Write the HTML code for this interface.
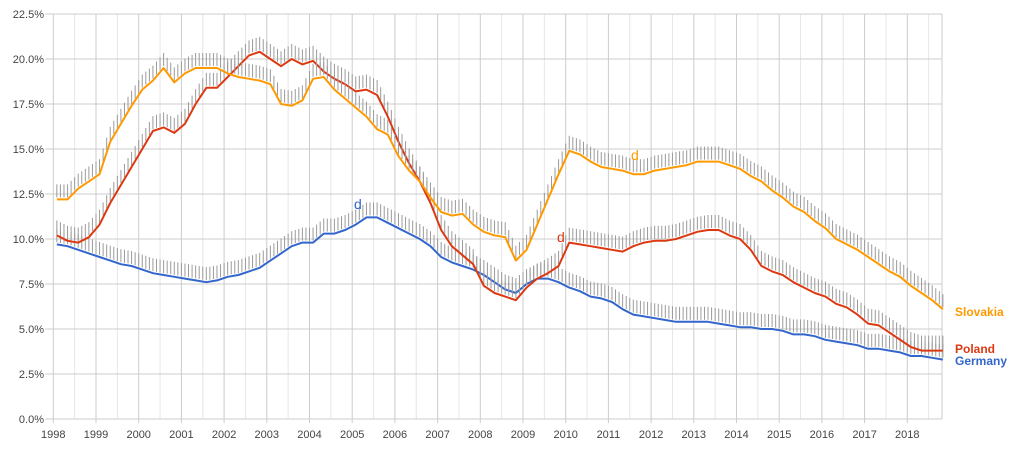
<!DOCTYPE html>
<html><head><meta charset="utf-8"><style>
body{margin:0;background:#fff;}
svg{display:block;font-family:"Liberation Sans",Arial,sans-serif;}
</style></head><body>
<svg id="chart" width="1015" height="450"></svg>
<script>
const years = [1998,1999,2000,2001,2002,2003,2004,2005,2006,2007,2008,2009,2010,2011,2012,2013,2014,2015,2016,2017,2018];
const yTicks = [0,2.5,5,7.5,10,12.5,15,17.5,20,22.5];
const germany = [9.7,9.6,9.4,9.2, 9.0,8.8,8.6,8.5, 8.3,8.1,8.0,7.9, 7.8,7.7,7.6,7.7, 7.9,8.0,8.2,8.4, 8.8,9.2,9.6,9.8, 9.8,10.3,10.3,10.5, 10.8,11.2,11.2,10.9, 10.6,10.3,10.0,9.6, 9.0,8.7,8.5,8.3, 8.0,7.6,7.2,7.0, 7.5,7.8,7.8,7.6, 7.3,7.1,6.8,6.7, 6.5,6.1,5.8,5.7, 5.6,5.5,5.4,5.4, 5.4,5.4,5.3,5.2, 5.1,5.1,5.0,5.0, 4.9,4.7,4.7,4.6, 4.4,4.3,4.2,4.1, 3.9,3.9,3.8,3.7, 3.5,3.5,3.4,3.3];
const slovakia = [12.2,12.2,12.8,13.2, 13.6,15.4,16.4,17.4, 18.3,18.8,19.5,18.7, 19.2,19.5,19.5,19.5, 19.2,19.0,18.9,18.8, 18.6,17.5,17.4,17.7, 18.9,19.0,18.3,17.8, 17.3,16.8,16.1,15.8, 14.6,13.8,13.2,12.3, 11.5,11.3,11.4,10.8, 10.4,10.2,10.1,8.8, 9.4,10.8,12.2,13.6, 14.9,14.7,14.3,14.0, 13.9,13.8,13.6,13.6, 13.8,13.9,14.0,14.1, 14.3,14.3,14.3,14.1, 13.9,13.5,13.2,12.7, 12.3,11.8,11.5,11.0, 10.6,10.0,9.7,9.4, 9.0,8.6,8.2,7.9, 7.4,7.0,6.6,6.1];
const poland = [10.2,9.9,9.8,10.1, 10.8,12.0,13.0,14.0, 15.0,16.0,16.2,15.9, 16.4,17.5,18.4,18.4, 19.0,19.6,20.2,20.4, 20.0,19.6,20.0,19.7, 19.9,19.3,18.9,18.6, 18.2,18.3,18.0,16.8, 15.4,14.2,13.2,12.0, 10.5,9.6,9.1,8.6, 7.4,7.0,6.8,6.6, 7.3,7.8,8.1,8.5, 9.8,9.7,9.6,9.5, 9.4,9.3,9.6,9.8, 9.9,9.9,10.0,10.2, 10.4,10.5,10.5,10.2, 10.0,9.4,8.5,8.2, 8.0,7.6,7.3,7.0, 6.8,6.4,6.2,5.8, 5.3,5.2,4.8,4.4, 4.0,3.8,3.8,3.8];
const seriesNames = ["Slovakia","Poland","Germany"];

const NS="http://www.w3.org/2000/svg";
const svg=document.getElementById('chart');
const X0=53.3, YW=42.7, XR=942, Y0=419, PPU=18;
function xMonth(m){return X0+m*YW/12;}
function xYear(y){return X0+(y-1998)*YW;}
function yVal(v){return Y0-v*PPU;}
function el(tag,attrs,parent){const e=document.createElementNS(NS,tag);for(const k in attrs)e.setAttribute(k,attrs[k]);(parent||svg).appendChild(e);return e;}

const grid=el('g',{});


years.forEach(y=>{
  const x=xYear(y);
  const l=el('line',{x1:x,x2:x,y1:14,y2:Y0+4,stroke:'#ccc','stroke-width':1},grid);
  
  
  const xm=xYear(y+0.5);
  if(xm<XR){const l2=el('line',{x1:xm,x2:xm,y1:14,y2:Y0,stroke:'#e6e6e6','stroke-width':1},grid);
  
  }
  const t=el('text',{x:x,y:438,'font-size':11,fill:'#444','text-anchor':'middle'});
  t.textContent=y;
  
  
});
yTicks.forEach(v=>{
  const y=yVal(v);
  const l=el('line',{x1:X0-8,x2:XR,y1:y,y2:y,stroke:'#ccc','stroke-width':1},grid);
  
  
  const t=el('text',{x:44,y:y+4,'font-size':11,fill:'#444','text-anchor':'end'});
  t.textContent=v.toFixed(1)+'%';
  
  
});
const rl=el('line',{x1:XR,x2:XR,y1:14,y2:Y0,stroke:'#ccc'},grid);



function drawSeries(data,color,name){
  const g=el('g',{});
  
  
  const pts=data.map((v,i)=>[xMonth(3*i+1),yVal(v)]);
  // whiskers placed monthly along the drawn line (decoration)
  for(let i=0;i<pts.length;i++){
    const a=pts[i], b=pts[i+1];
    const steps=b?3:1;
    for(let k=0;k<steps;k++){
      const t=k/3;
      const x=b?a[0]+(b[0]-a[0])*t:a[0];
      const y=b?a[1]+(b[1]-a[1])*t:a[1];
      const w=el('line',{x1:x,x2:x,y1:y-2,y2:y-15,stroke:'#9a9a9a','stroke-width':1},g);
      
      
    }
  }
  const pl=el('polyline',{points:pts.map(p=>p.join(',')).join(' '),fill:'none',stroke:color,'stroke-width':2,'stroke-linejoin':'round'},g);
  
  
}
drawSeries(germany,'#3366cc','germany');
drawSeries(poland,'#dc3912','poland');
drawSeries(slovakia,'#ff9900','slovakia');

function label(txt,x,y,color,name,bold,size){
  const t=el('text',{x:x,y:y,'font-size':size||12,fill:color,'font-weight':bold?'bold':'normal'});
  t.textContent=txt;
  
  
}
label(seriesNames[0],955,316,'#ff9900','legend-slovakia',true);
label(seriesNames[1],955,353,'#dc3912','legend-poland',true);
label(seriesNames[2],955,365,'#3366cc','legend-germany',true);
label('d',354,209,'#3366cc','flag-germany',false,14);
label('d',557,242,'#dc3912','flag-poland',false,14);
label('d',631,160,'#ff9900','flag-slovakia',false,14);
</script>
</body></html>
